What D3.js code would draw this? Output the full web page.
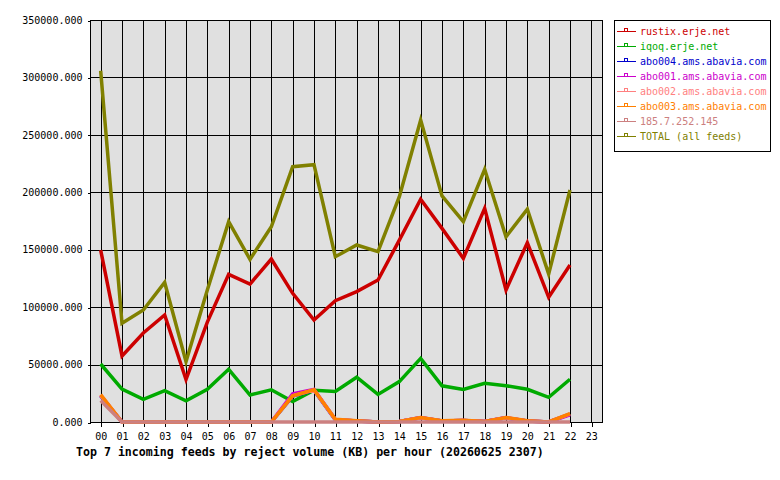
<!DOCTYPE html>
<html>
<head>
<meta charset="utf-8">
<script src="https://cdn.jsdelivr.net/npm/d3@7"></script>
<style>
  body { margin: 0; background: #fff; }
  .chart text { font-family: "DejaVu Sans Mono", monospace; font-size: 10px; fill: #000; }
  .chart .title { font-weight: bold; font-size: 11.6px; }
</style>
</head>
<body>
<div class="chart"></div>
<script>
// hours of the day, x axis
var hours = ['00','01','02','03','04','05','06','07','08','09','10','11',
             '12','13','14','15','16','17','18','19','20','21','22','23'];

var feeds = ['rustix.erje.net', 'iqoq.erje.net', 'abo004.ams.abavia.com',
             'abo001.ams.abavia.com', 'abo002.ams.abavia.com',
             'abo003.ams.abavia.com', '185.7.252.145', 'TOTAL (all feeds)'];

var colors = ['#cc0000', '#00aa00', '#0000cc', '#cc00cc', '#ff8080',
              '#ff8000', '#cc8080', '#808000'];

// reject volume (KB), hours 00..22 (no data yet for 23)
var rustix = [149700, 57500, 77500, 93200, 37000, 87000, 128600, 120100, 141900, 112000, 88800, 105600,
              113500, 123600, 158400, 193900, 168600, 142500, 186000, 114900, 156100, 108600, 136700];
var iqoq   = [50500, 28700, 19700, 27300, 18500, 28500, 45900, 23500, 28000, 17800, 27600, 26500,
              39000, 24000, 35200, 55400, 31500, 28300, 33700, 31600, 28500, 21500, 37200];
var abo004 = [22800, 0, 0, 0, 0, 0, 0, 0, 0, 22600, 27600, 2000,
              800, 0, 400, 3600, 800, 1300, 400, 3600, 800, 0, 6900];
var abo001 = [23200, 0, 0, 0, 0, 0, 0, 0, 0, 24600, 28300, 2200,
              900, 0, 500, 3800, 900, 1400, 500, 3800, 900, 0, 6300];
var abo002 = [23000, 0, 0, 0, 0, 0, 0, 0, 0, 22900, 27800, 2100,
              900, 0, 400, 3700, 900, 1400, 400, 3700, 900, 0, 7000];
var abo003 = [23800, 0, 0, 0, 0, 0, 0, 0, 0, 22800, 28000, 2300,
              1000, 0, 500, 3900, 1000, 1500, 500, 3900, 1000, 0, 7200];
var host185 = [18800, 0, 0, 0, 0, 0, 0, 0, 0, 0, 0, 0,
               0, 0, 0, 0, 0, 0, 0, 0, 0, 0, 0];
var total  = [305800, 85900, 97500, 121500, 52500, 115000, 174400, 141600, 170000, 222300, 224000, 143900,
              154100, 148300, 196200, 262900, 196800, 174400, 220000, 161300, 185200, 128800, 202000];

var yTicks = [0, 50000, 100000, 150000, 200000, 250000, 300000, 350000];

var title = 'Top 7 incoming feeds by reject volume (KB) per hour (20260625 2307)';

var chart = {

  element: '.chart',

  width: 780,
  height: 480,

  plot: { left: 90, right: 602, top: 20, bottom: 422 },

  draw: function(series){
    var p = this.plot;
    var svg = d3.select(this.element).append('svg')
          .attr('width', this.width)
          .attr('height', this.height);

    var x = d3.scalePoint().domain(hours).range([p.left, p.right]).padding(0.5),
        y = d3.scaleLinear().domain([0, 350000]).range([p.bottom, p.top]);

    svg.append('rect')
        .attr('x', p.left).attr('y', p.top)
        .attr('width', p.right - p.left).attr('height', p.bottom - p.top)
        .attr('fill', '#e0e0e0');

    // grid
    var grid = svg.append('g').attr('stroke', '#000').attr('shape-rendering', 'crispEdges');
    grid.selectAll('.vg').data(hours).enter().append('line')
        .attr('x1', function(d){ return Math.round(x(d)) + 0.5; })
        .attr('x2', function(d){ return Math.round(x(d)) + 0.5; })
        .attr('y1', p.top).attr('y2', p.bottom);
    grid.selectAll('.hg').data(yTicks).enter().append('line')
        .attr('x1', p.left).attr('x2', p.right)
        .attr('y1', function(d){ return Math.round(y(d)) + 0.5; })
        .attr('y2', function(d){ return Math.round(y(d)) + 0.5; });

    svg.append('rect')
        .attr('x', p.left + 0.5).attr('y', p.top + 0.5)
        .attr('width', p.right - p.left).attr('height', p.bottom - p.top)
        .attr('fill', 'none').attr('stroke', '#000').attr('shape-rendering', 'crispEdges');

    // axes
    var ya = svg.append('g')
        .attr('transform', 'translate(' + (p.left + 0.5) + ',0)')
        .call(d3.axisLeft(y).tickValues(yTicks).tickSize(3).tickPadding(5)
                .tickFormat(d3.format('.3f')));
    var xa = svg.append('g')
        .attr('transform', 'translate(0,' + (p.bottom + 0.5) + ')')
        .call(d3.axisBottom(x).tickSize(4).tickPadding(6));
    [ya, xa].forEach(function(a){
      a.select('.domain').remove();
      a.selectAll('text').attr('font-family', null).attr('font-size', null);
      a.selectAll('line').attr('shape-rendering', 'crispEdges');
    });
    ya.selectAll('line').attr('transform', 'translate(0,0.5)');
    xa.selectAll('line').attr('transform', 'translate(0.5,0)');

    // lines
    var line = d3.line()
        .defined(function(d){ return d != null; })
        .x(function(d, i){ return x(hours[i]); })
        .y(function(d){ return y(d); });

    svg.append('g').selectAll('path')
        .data(series)
      .enter().append('path')
        .attr('d', line)
        .attr('fill', 'none')
        .attr('stroke', function(d, i){ return colors[i]; })
        .attr('stroke-width', 3.5)
        .attr('stroke-linejoin', 'miter');

    // legend
    var lg = svg.append('g');
    lg.append('rect')
        .attr('x', 614.5).attr('y', 20.5).attr('width', 156).attr('height', 131)
        .attr('fill', '#fff').attr('stroke', '#000').attr('shape-rendering', 'crispEdges');
    var rows = lg.selectAll('.row').data(feeds).enter().append('g')
        .attr('transform', function(d, i){ return 'translate(0,' + (31 + 15 * i) + ')'; });
    rows.append('line')
        .attr('x1', 617).attr('x2', 636).attr('y1', 0.5).attr('y2', 0.5)
        .attr('stroke', function(d, i){ return colors[i]; })
        .attr('shape-rendering', 'crispEdges');
    rows.append('rect')
        .attr('x', 624.5).attr('y', -2.5).attr('width', 3).attr('height', 3)
        .attr('fill', 'none')
        .attr('stroke', function(d, i){ return colors[i]; })
        .attr('shape-rendering', 'crispEdges');
    rows.append('text')
        .attr('x', 640).attr('y', 4)
        .style('fill', function(d, i){ return colors[i]; })
        .text(function(d){ return d; });

    svg.append('text')
        .attr('class', 'title')
        .attr('x', 76).attr('y', 456)
        .text(title);

    return svg;
  }
};

chart.draw([rustix, iqoq, abo004, abo001, abo002, abo003, host185, total]);
</script>
</body>
</html>
